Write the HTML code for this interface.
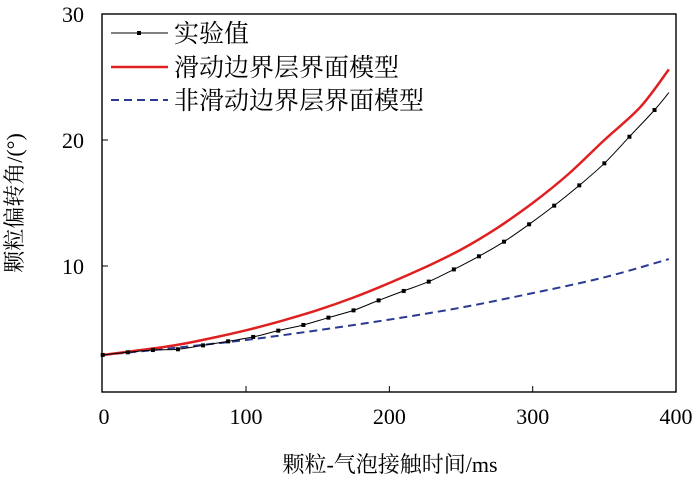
<!DOCTYPE html>
<html><head><meta charset="utf-8"><style>
html,body{margin:0;padding:0;background:#fff;}
svg{display:block;font-family:"Liberation Serif","Noto Serif CJK SC",serif;}
</style></head><body>
<svg id="chart" width="700" height="484" viewBox="0 0 700 484">
<g id="plot"></g>
<text x="104" y="424" font-size="22" text-anchor="middle">0</text>
<g id="xticks"></g><g id="yticks"></g>
<text x="390" y="472" font-size="22" text-anchor="middle">颗粒-气泡接触时间/ms</text>
<text transform="translate(22,203) rotate(-90)" font-size="22" text-anchor="middle">颗粒偏转角/(°)</text>
<g>
 <line x1="111" y1="33" x2="168" y2="33" stroke="#000" stroke-width="1"/>
 <rect x="137" y="31" width="4" height="4" fill="#000"/>
 <text x="174" y="42" font-size="25" font-family="Noto Serif CJK SC,serif">实验值</text>
 <line x1="111" y1="67" x2="168" y2="67" stroke="#e02020" stroke-width="2.5"/>
 <text x="174" y="76" font-size="25" font-family="Noto Serif CJK SC,serif">滑动边界层界面模型</text>
 <line x1="111" y1="100" x2="168" y2="100" stroke="#2a3a90" stroke-width="2" stroke-dasharray="8,5"/>
 <text x="174" y="109" font-size="25" font-family="Noto Serif CJK SC,serif">非滑动边界层界面模型</text>
</g>
<rect x="102" y="14" width="574" height="378" fill="none" stroke="#000" stroke-width="1.4"/>
</svg>
<script>
const xTicks=[100,200,300,400];
const yTicks=[10,20,30];
const expX=[0,17.5,35,52.5,70,87.5,105,122.5,140,157.5,175,192.5,210,227.5,245,262.5,280,297.5,315,332.5,350,367.5,385,395];
const expY=[2.94,3.15,3.33,3.39,3.70,4.02,4.37,4.87,5.32,5.90,6.48,7.27,8.02,8.76,9.73,10.77,11.93,13.31,14.79,16.40,18.15,20.26,22.38,23.76];
const slipX=[0,25,50,75,100,125,150,175,200,225,250,275,300,325,350,375,395];
const slipY=[2.94,3.3,3.7,4.25,4.9,5.65,6.5,7.5,8.65,9.9,11.3,13.0,15.0,17.3,20.0,22.6,25.6];
const nonX=[0,50,100,150,200,250,300,350,395];
const nonY=[2.94,3.5,4.13,4.9,5.75,6.7,7.85,9.1,10.55];
const NS='http://www.w3.org/2000/svg';
const sx=v=>102.7+v*1.4333, sy=v=>392-v*12.6;
const plot=document.getElementById('plot');
function mk(t,a,p){const e=document.createElementNS(NS,t);for(const k in a)e.setAttribute(k,a[k]);(p||plot).appendChild(e);return e;}
function smooth(xs,ys){
 const P=xs.map((x,i)=>[sx(x),sy(ys[i])]);
 let d='M'+P[0][0].toFixed(1)+','+P[0][1].toFixed(1);
 for(let i=0;i<P.length-1;i++){
  const p0=P[Math.max(0,i-1)],p1=P[i],p2=P[i+1],p3=P[Math.min(P.length-1,i+2)];
  const c1=[p1[0]+(p2[0]-p0[0])/6,p1[1]+(p2[1]-p0[1])/6];
  const c2=[p2[0]-(p3[0]-p1[0])/6,p2[1]-(p3[1]-p1[1])/6];
  d+=' C'+c1[0].toFixed(1)+','+c1[1].toFixed(1)+' '+c2[0].toFixed(1)+','+c2[1].toFixed(1)+' '+p2[0].toFixed(1)+','+p2[1].toFixed(1);
 }
 return d;
}
let l=mk('path',{d:smooth(nonX,nonY),fill:'none',stroke:'#2a3a90','stroke-width':2,'stroke-dasharray':'8,5'});


l=mk('path',{d:smooth(slipX,slipY),fill:'none',stroke:'#e02020','stroke-width':2.5});


l=mk('path',{d:smooth(expX,expY),fill:'none',stroke:'#000','stroke-width':1});


expX.forEach((x,i)=>{if(i===expX.length-1)return;
 const r=mk('rect',{x:sx(x)-2,y:sy(expY[i])-2,width:4,height:4,fill:'#000'});
 
 });
const xt=document.getElementById('xticks'),yt=document.getElementById('yticks');
xTicks.forEach(v=>{mk('line',{x1:sx(v),x2:sx(v),y1:392,y2:386,stroke:'#000'},xt);
 const t=mk('text',{x:sx(v),y:424,'font-size':22,'text-anchor':'middle'},xt);t.textContent=v;
 
 });
yTicks.forEach(v=>{mk('line',{x1:102,x2:108,y1:sy(v),y2:sy(v),stroke:'#000'},yt);
 const t=mk('text',{x:84,y:sy(v)+8,'font-size':22,'text-anchor':'end'},yt);t.textContent=v;
 
 });
</script>
</body></html>
